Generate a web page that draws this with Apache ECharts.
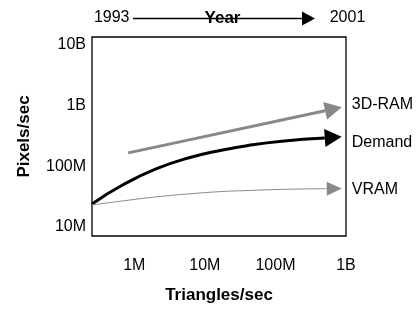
<!DOCTYPE html>
<html>
<head>
<meta charset="utf-8">
<script src="https://cdn.jsdelivr.net/npm/echarts@6/dist/echarts.min.js"></script>
<style>
html,body{margin:0;padding:0;background:#fff;}
#chart{width:416px;height:309px;}
</style>
</head>
<body>
<div id="chart"></div>
<script>
// ---- data ----
const xTickValues = [1e6, 1e7, 1e8, 1e9];
const xTickLabels = ['1M', '10M', '100M', '1B'];
const yTickValues = [1e7, 1e8, 1e9, 1e10];
const yTickLabels = ['10M', '100M', '1B', '10B'];
const xTitle = 'Triangles/sec';
const yTitle = 'Pixels/sec';
const yearStart = '1993';
const yearEnd = '2001';
const yearTitle = 'Year';

const seriesNames = ['3D-RAM', 'Demand', 'VRAM'];
const ram3dTriangles = [8.2e5, 8.7e8];
const ram3dPixels = [1.66e8, 9.4e8];
const demandTriangles = [2.51e5, 7.0e5, 2.07e6, 6.15e6, 1.64e7, 4.12e7, 1.23e8, 8.7e8];
const demandPixels = [2.39e7, 5.0e7, 9.1e7, 1.39e8, 1.82e8, 2.20e8, 2.58e8, 3.05e8];
const vramTriangles = [2.51e5, 7.0e5, 2.07e6, 6.15e6, 1.64e7, 4.12e7, 1.23e8, 8.7e8];
const vramPixels = [2.30e7, 2.69e7, 3.13e7, 3.51e7, 3.81e7, 3.98e7, 4.15e7, 4.31e7];

// ---- chart ----
const FONT = 'Liberation Sans, Arial, Helvetica, sans-serif';
const lg = Math.log10;
const xLabelMap = {}; xTickValues.forEach((v, i) => xLabelMap[Math.round(lg(v))] = xTickLabels[i]);
const yLabelMap = {}; yTickValues.forEach((v, i) => yLabelMap[Math.round(lg(v))] = yTickLabels[i]);

function curve(name, xs, ys, st) {
  const pts = xs.map((x, i) => [lg(x), lg(ys[i])]);
  return {
    type: 'custom',
    name: name,
    clip: false,
    silent: true,
    data: [pts[0]],
    encode: {x: 0, y: 1},
    renderItem: function (params, api) {
      const p = pts.map(d => api.coord(d));
      const tip = p[p.length - 1], prev = p[p.length - 2];
      const dx = tip[0] - prev[0], dy = tip[1] - prev[1];
      const L = Math.hypot(dx, dy);
      const ux = dx / L, uy = dy / L;
      const base = [tip[0] - ux * st.headLen, tip[1] - uy * st.headLen];
      const hw = st.headWidth / 2;
      const linePts = p.slice(0, -1).concat([base]);
      return {
        type: 'group',
        children: [
          {type: 'polyline', shape: {points: linePts, smooth: st.smooth},
           style: {stroke: st.color, lineWidth: st.width, fill: null, lineJoin: 'round', lineCap: 'butt'}},
          {type: 'polygon', shape: {points: [tip, [base[0] - uy * hw, base[1] + ux * hw], [base[0] + uy * hw, base[1] - ux * hw]]},
           style: {fill: st.color, stroke: null}},
          {type: 'text', x: tip[0] + st.labelDx, y: tip[1] + st.labelDy,
           style: {text: name, fill: '#000', fontSize: 16, fontFamily: FONT, align: 'left', verticalAlign: 'middle'}}
        ]
      };
    }
  };
}

const chart = echarts.init(document.getElementById('chart'), null, {renderer: 'canvas'});
chart.setOption({
  animation: false,
  backgroundColor: '#fff',
  grid: {left: 92, top: 37, width: 254, height: 202, show: true, borderColor: '#000', borderWidth: 1.3, backgroundColor: 'transparent'},
  xAxis: {
    type: 'value', min: 5.4, max: 9.0,
    axisLine: {show: false}, axisTick: {show: false}, splitLine: {show: false},
    axisLabel: {customValues: xTickValues.map(lg), formatter: v => xLabelMap[Math.round(v)],
      fontSize: 16, fontFamily: FONT, color: '#000', margin: 22},
    name: xTitle, nameLocation: 'middle', nameGap: 51,
    nameTextStyle: {fontSize: 17, fontWeight: 'bold', fontFamily: FONT, color: '#000'}
  },
  yAxis: {
    type: 'value', min: 6.85, max: 10.13,
    axisLine: {show: false}, axisTick: {show: false}, splitLine: {show: false},
    axisLabel: {customValues: yTickValues.map(lg), formatter: v => yLabelMap[Math.round(v)],
      fontSize: 16, fontFamily: FONT, color: '#000', margin: 6},
    name: yTitle, nameLocation: 'middle', nameGap: 59, nameRotate: 90,
    nameTextStyle: {fontSize: 17, fontWeight: 'bold', fontFamily: FONT, color: '#000'}
  },
  graphic: [
    {type: 'line', shape: {x1: 133, y1: 18.5, x2: 303, y2: 18.5}, style: {stroke: '#000', lineWidth: 1.3}, z: 10},
    {type: 'polygon', shape: {points: [[302, 11.5], [315, 18.5], [302, 25.5]]}, style: {fill: '#000'}, z: 10},
    {type: 'text', x: 111.7, y: 17.5, style: {text: yearStart, fontSize: 16, fontFamily: FONT, fill: '#000', align: 'center', verticalAlign: 'middle'}, z: 11},
    {type: 'text', x: 347.5, y: 17.5, style: {text: yearEnd, fontSize: 16, fontFamily: FONT, fill: '#000', align: 'center', verticalAlign: 'middle'}, z: 11},
    {type: 'text', x: 222.5, y: 18.5, style: {text: yearTitle, fontSize: 17, fontWeight: 'bold', fontFamily: FONT, fill: '#000', align: 'center', verticalAlign: 'middle'}, z: 11}
  ],
  series: [
    curve(seriesNames[0], ram3dTriangles, ram3dPixels, {color: '#888888', width: 3, headLen: 17, headWidth: 18, smooth: 0, labelDx: 10, labelDy: -3}),
    curve(seriesNames[1], demandTriangles, demandPixels, {color: '#000000', width: 3, headLen: 17, headWidth: 18, smooth: 0.5, labelDx: 10, labelDy: 6}),
    curve(seriesNames[2], vramTriangles, vramPixels, {color: '#8a8a8a', width: 1, headLen: 15, headWidth: 14, smooth: 0.5, labelDx: 10, labelDy: 1})
  ]
});
</script>
</body>
</html>
